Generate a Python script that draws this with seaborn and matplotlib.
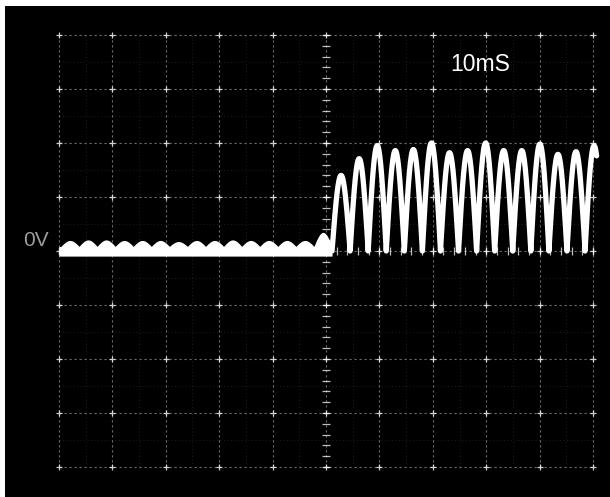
import numpy as np
import pandas as pd
import matplotlib
matplotlib.use("Agg")
import matplotlib.pyplot as plt
import seaborn as sns

# ---------------- data ----------------
# time axis: 10 ms / division, 10 divisions; vertical axis in divisions
time_divs = [0, 10, 20, 30, 40, 50, 60, 70, 80, 90, 100]      # ms
volt_divs = [-4, -3, -2, -1, 0, 1, 2, 3, 4]                     # div
period_ms = 3.384                                               # one rectified half-cycle
ripple_start_ms = 0.37                                          # first ripple bump starts
# small ripple bumps riding on the 0 V line before switching (div)
ripple_peaks = [0.11, 0.12, 0.12, 0.11, 0.11, 0.11, 0.09, 0.11,
                0.11, 0.12, 0.11, 0.11, 0.11, 0.11, 0.26]
# rectified output half-wave peaks after switching (div)
output_peaks = [1.40, 1.71, 1.95, 1.86, 1.88, 2.00, 1.82, 1.86,
                2.00, 1.86, 1.86, 1.98, 1.79, 1.84, 1.95]
zero_label = "0V"
timebase_label = "10mS"


def lobes(start, peaks, n=40):
    ts, vs = [], []
    for k, a in enumerate(peaks):
        t0 = start + k * period_ms
        tt = np.linspace(t0, t0 + period_ms, n)
        ts.append(tt)
        vs.append(a * np.abs(np.sin(np.pi * (tt - t0) / period_ms)))
    return np.concatenate(ts), np.concatenate(vs)


t_r, v_r = lobes(ripple_start_ms, ripple_peaks)
t_r = np.concatenate([[0.0], t_r])
v_r = np.concatenate([[0.0], v_r])
out_start = ripple_start_ms + len(ripple_peaks) * period_ms
t_o, v_o = lobes(out_start, output_peaks)
keep = t_o <= 100.7
t_o, v_o = t_o[keep], v_o[keep]

df_o = pd.DataFrame({"t": t_o, "v": v_o})

# ---------------- figure ----------------
sns.set_theme(style="dark")
plt.rcParams["font.family"] = ["Liberation Sans", "DejaVu Sans"]

fig = plt.figure(figsize=(6.10, 4.97), dpi=100, facecolor="white")
ax = fig.add_axes([5 / 610, 0, 605 / 610, 491 / 497])
ax.set_facecolor("black")
ax.set_xlim(-10.11, 103.18)
ax.set_ylim(-4.556, 4.537)
ax.set_xticks([])
ax.set_yticks([])
for s in ax.spines.values():
    s.set_visible(False)
ax.grid(False)

gcol = "#d8d8d8"
# minor half-division lines (faint)
for x in np.arange(5, 100, 10):
    ax.vlines(x, -4, 4, colors=gcol, linewidth=0.6, linestyles=(0, (1.2, 3)), alpha=0.16)
for y in np.arange(-3.5, 4, 1.0):
    ax.hlines(y, 0, 100, colors=gcol, linewidth=0.6, linestyles=(0, (1.2, 3)), alpha=0.16)
# major division lines
for x in time_divs:
    ax.vlines(x, -4, 4, colors=gcol, linewidth=0.8, linestyles=(0, (2, 2.5)), alpha=0.5)
for y in volt_divs:
    ax.hlines(y, 0, 100, colors=gcol, linewidth=0.8, linestyles=(0, (2, 2.5)), alpha=0.5)
# intersection marks
gx, gy = np.meshgrid(time_divs, volt_divs)
ax.scatter(gx.ravel(), gy.ravel(), marker="+", s=22, color="white", linewidths=0.9, alpha=0.8, zorder=2)
# centre axes with fine ticks
for y in np.arange(-4, 4.01, 0.2):
    ax.hlines(y, 50 - 0.7, 50 + 0.7, colors="white", linewidth=0.9, alpha=0.75)
for x in np.arange(0, 100.01, 2):
    ax.vlines(x, -0.07, 0.07, colors="white", linewidth=0.9, alpha=0.75)

# trace: thick 0 V band with ripple bumps on top, then the rectified output
ax.fill_between(t_r, -0.095, 0.085 + v_r, color="white", linewidth=0, zorder=5)
sns.lineplot(data=df_o, x="t", y="v", ax=ax, color="white", linewidth=3.8,
             estimator=None, sort=False, zorder=5, solid_joinstyle="round")
ax.set_xlabel("")
ax.set_ylabel("")

ax.text(78.8, 3.46, timebase_label, color="white", fontsize=16.5,
        ha="center", va="center", zorder=6)
ax.text(-4.3, 0.19, zero_label, color="#9c9c9c", fontsize=15,
        ha="center", va="center", zorder=6)

fig.savefig("out.png", dpi=100, facecolor="white")
